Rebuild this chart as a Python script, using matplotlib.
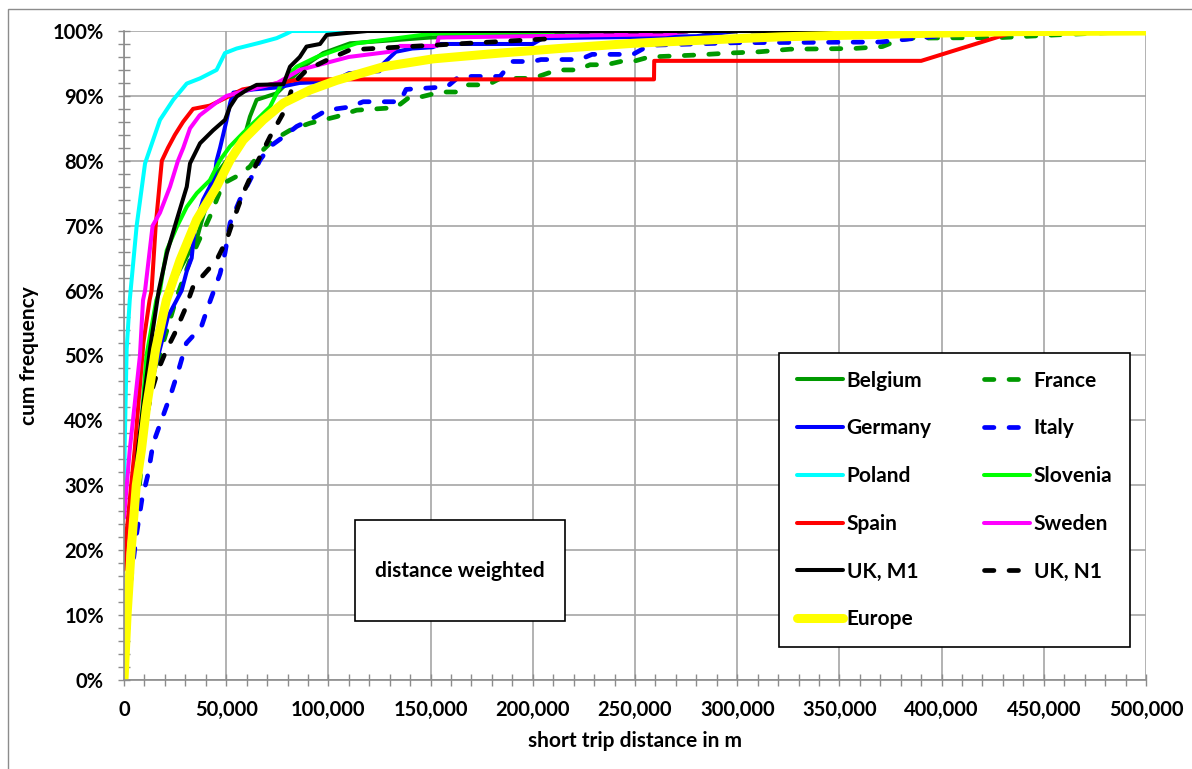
import matplotlib
matplotlib.use("Agg")
import matplotlib.pyplot as plt
import matplotlib.patches as patches
from matplotlib.ticker import FuncFormatter, MultipleLocator

plt.rcParams['font.family'] = ['Lato', 'DejaVu Sans']
plt.rcParams['font.weight'] = 'bold'

# cumulative share (%) over short trip distance (m), distance weighted
belgium_x = [0, 3500, 8500, 13000, 22000, 32000, 35500, 37200, 42000, 45300, 50200, 58300,
             61600, 64900, 74700, 81200, 87700, 97500, 110600, 150000, 200000, 250000, 500000]
belgium_y = [0, 20, 35.4, 50, 60, 66, 67.8, 69.8, 75, 78, 80, 83,
             86.8, 89.4, 90.4, 92.4, 94.5, 96.6, 98.1, 99, 99.5, 100, 100]

france_x = [0, 4000, 5400, 7800, 9400, 11100, 12700, 16600, 17600, 25800,
            32300, 42000, 48500, 55100, 61600, 66500, 73000, 81200, 91000, 104000,
            113800, 133000, 140000, 146000, 155000, 163000, 168000, 178000, 184000, 200000,
            212000, 222000, 228000, 236000, 243000, 249000, 257000, 280000, 296000, 311000,
            326000, 357000, 371000, 379000, 386000, 430000, 456000, 500000]
france_y = [0, 20, 23.6, 30.8, 37, 40.6, 45.7, 48.8, 50.3, 59,
            64.7, 71.4, 76.5, 77.6, 79.1, 81.2, 83.2, 84.7, 85.8, 86.8,
            87.8, 88.2, 89.9, 89.9, 90.6, 90.6, 91.7, 91.7, 92.7, 92.7,
            94, 94, 94.8, 94.8, 95.3, 95.3, 96, 96.3, 96.6, 96.8,
            97.2, 97.3, 97.6, 98.6, 98.9, 99, 99.4, 100]

germany_x = [0, 3500, 8500, 12000, 16600, 18300, 21500, 28200, 30700, 33100,
             34700, 38700, 42000, 44500, 45300, 47000, 48500, 50000, 52000, 53500,
             63300, 75000, 86000, 102000, 110000, 125000, 127000, 133000, 141000, 151000,
             155000, 200000, 205000, 280000, 300000, 500000]
germany_y = [0, 20, 35.4, 44, 49.8, 51.9, 56, 60, 63, 65,
             70, 74, 76, 78, 80, 82, 84, 86, 89, 90.5,
             91, 91.3, 92, 92.2, 93.5, 93.8, 95, 96.8, 97.3, 97.5,
             98, 98, 98.9, 99.2, 100, 100]

italy_x = [0, 1300, 2900, 4600, 6200, 8700, 11900, 14200, 18300, 23100,
           27200, 30500, 37800, 41100, 47000, 49400, 51900, 56700, 61600, 66500,
           71400, 78000, 84500, 91000, 99200, 110600, 117000, 135000, 138000, 158000,
           164000, 184000, 190000, 200000, 204000, 223000, 229000, 249000, 257000, 300000,
           370000, 400000, 440000, 500000]
italy_y = [0, 9.8, 14.4, 18.5, 22.6, 27.7, 31.9, 36.4, 40, 44.2,
           48.3, 51.9, 54.4, 57.5, 62.6, 65.8, 70.4, 74, 77, 80.1,
           82.2, 83.7, 85.3, 86.3, 87.8, 88.3, 89.1, 89.1, 91, 91.4,
           93, 93, 95.3, 95.3, 95.6, 95.6, 96.4, 96.4, 97.8, 98.2,
           98.3, 99.3, 100, 100]

poland_x = [0, 300, 1300, 2800, 6200, 10300, 17600, 24100, 30700, 37200,
            45300, 49400, 55100, 66500, 74700, 79600, 82000, 500000]
poland_y = [25, 35.5, 51, 58.5, 70, 79.6, 86.3, 89.4, 91.9, 92.7,
            94, 96.6, 97.3, 98.2, 98.9, 99.6, 100, 100]

slovenia_x = [0, 3500, 7500, 11000, 15800, 17600, 19100, 20900, 25800, 30700,
              35600, 42000, 47000, 51800, 58300, 64900, 71400, 76300, 81200, 84500,
              94300, 104100, 113800, 151000, 200000, 250000, 500000]
slovenia_y = [0, 20, 35.4, 50, 58.5, 60, 63, 66.2, 69.8, 72.9,
              75, 77, 80.1, 82.2, 84.3, 86.3, 88.3, 91.4, 93.5, 94.5,
              96, 97.1, 98.1, 99.6, 99.8, 100, 100]

spain_x = [0, 400, 5200, 9500, 12500, 13500, 15500, 17000, 18500, 21500,
           24900, 28900, 33800, 42000, 48500, 58000, 86000, 259300, 259400, 390000,
           437000, 500000]
spain_y = [17, 20, 35.4, 52, 58.5, 60, 70, 75, 80, 82,
           84, 86, 88, 88.5, 89.5, 91, 92.55, 92.55, 95.4, 95.4,
           100, 100]

sweden_x = [0, 2800, 7800, 9300, 10300, 14000, 17600, 22500, 26400, 29000,
            32300, 37000, 45300, 50200, 58000, 75000, 86000, 110000, 130000, 135000,
            153000, 154000, 200000, 265000, 277000, 500000]
sweden_y = [25, 35.4, 50, 58.5, 60, 70, 72, 76, 80, 82,
            85, 87, 89, 90, 90.7, 92, 94, 96, 96.8, 97.7,
            97.7, 99, 99.2, 99.5, 100, 100]

uk_m1_x = [0, 3000, 6800, 12700, 17000, 21000, 25800, 30700, 32300, 37200,
           43600, 49400, 51800, 55100, 60000, 64900, 78000, 81200, 86000, 89300,
           95900, 99200, 119000, 500000]
uk_m1_y = [10, 20, 35.4, 51, 60, 65.8, 70.9, 76, 79.6, 82.7,
           84.7, 86.3, 88.3, 89.9, 90.9, 91.7, 91.8, 94.5, 96, 97.6,
           98, 99.4, 100, 100]

uk_n1_x = [0, 3500, 8000, 10500, 14000, 16600, 20700, 24800, 29700, 33800,
           45300, 50200, 53500, 58300, 64900, 71400, 79600, 82800, 89400, 99200,
           110600, 208000, 210000, 500000]
uk_n1_y = [0, 20, 35.4, 40, 45, 47.7, 50.8, 53.4, 57, 60.6,
           64.7, 67.8, 70.9, 75, 79.6, 83.7, 88.3, 91.9, 94, 95.5,
           97.1, 98.8, 100, 100]

europe_x = [0, 1500, 3500, 6000, 8500, 11000, 15500, 20700, 27400, 35500,
            45300, 51900, 58300, 68100, 78000, 91000, 104100, 127000, 151000, 184000,
            217000, 249000, 291000, 321000, 386000, 435000, 500000]
europe_y = [0, 10, 20, 30, 35.4, 42, 51, 58.5, 64.7, 70.9,
            76, 80.1, 83.2, 86.3, 88.9, 90.9, 92.4, 94.5, 95.7, 96.6,
            97.4, 98.1, 98.7, 99.1, 99.6, 99.9, 100]

dark_green = "#009900"
series = [
    ("Belgium", belgium_x, belgium_y, dark_green, "-", 2.9),
    ("France", france_x, france_y, dark_green, "--", 3.4),
    ("Germany", germany_x, germany_y, "#0000ff", "-", 2.9),
    ("Italy", italy_x, italy_y, "#0000ff", "--", 3.4),
    ("Poland", poland_x, poland_y, "#00ffff", "-", 2.9),
    ("Slovenia", slovenia_x, slovenia_y, "#00ff00", "-", 2.9),
    ("Spain", spain_x, spain_y, "#ff0000", "-", 2.9),
    ("Sweden", sweden_x, sweden_y, "#ff00ff", "-", 2.9),
    ("UK, M1", uk_m1_x, uk_m1_y, "#000000", "-", 2.9),
    ("UK, N1", uk_n1_x, uk_n1_y, "#000000", "--", 3.4),
    ("Europe", europe_x, europe_y, "#ffff00", "-", 6.5),
]

fig = plt.figure(figsize=(11.92, 7.69), dpi=100)
ax = fig.add_axes([124 / 1192, 1 - 680 / 769, 1022 / 1192, 649 / 769])

handles = {}
for name, xs, ys, color, style, lw in series:
    line, = ax.plot(xs, [v / 100 for v in ys], color=color, lw=lw, label=name,
                    solid_capstyle="round", solid_joinstyle="round",
                    dash_capstyle="round", dash_joinstyle="round")
    if style == "--":
        line.set_dashes((2.0, 3.2))
    handles[name] = line

ax.set_xlim(0, 500000)
ax.set_ylim(0, 1.0)

grid_col = "#a6a6a6"
ax.xaxis.set_major_locator(MultipleLocator(50000))
ax.xaxis.set_minor_locator(MultipleLocator(10000))
ax.yaxis.set_major_locator(MultipleLocator(0.1))
ax.yaxis.set_minor_locator(MultipleLocator(0.02))
ax.xaxis.set_major_formatter(FuncFormatter(lambda v, p: f"{int(v):,}"))
ax.yaxis.set_major_formatter(FuncFormatter(lambda v, p: f"{v * 100:.0f}%"))
ax.grid(True, which="major", color=grid_col, lw=1.2)
ax.set_axisbelow(True)

for side in ["top", "right"]:
    ax.spines[side].set_visible(False)
for side in ["left", "bottom"]:
    ax.spines[side].set_color("#8c8c8c")
    ax.spines[side].set_linewidth(1.2)

ax.tick_params(which="both", direction="inout", color="#8c8c8c", width=1.0)
ax.tick_params(which="major", length=9, labelsize=14.5)
ax.tick_params(which="minor", length=8)
ax.tick_params(axis="y", which="major", pad=10)
ax.tick_params(axis="x", which="major", pad=10)

ax.set_xlabel("short trip distance in m", fontsize=15, fontweight="bold", labelpad=8)
ax.set_ylabel("cum frequency", fontsize=15, fontweight="bold", labelpad=10)

order = ["Belgium", "Germany", "Poland", "Spain", "UK, M1", "Europe",
         "France", "Italy", "Slovenia", "Sweden", "UK, N1"]
leg = ax.legend([handles[n] for n in order], order, ncol=2,
                loc="upper left", bbox_to_anchor=(779 / 1192, 1 - 353 / 769),
                bbox_transform=fig.transFigure, borderaxespad=0,
                fontsize=15, handlelength=2.2, handletextpad=0.2,
                columnspacing=2.5, labelspacing=1.33, borderpad=0.85,
                fancybox=False, framealpha=1, edgecolor="black")
leg.get_frame().set_linewidth(1.2)

# text box inside the plot area
fig.patches.append(patches.Rectangle((355 / 1192, 1 - 621 / 769), 210 / 1192, 101 / 769,
                                     transform=fig.transFigure, facecolor="white",
                                     edgecolor="black", lw=1.2, zorder=5))
fig.text(460 / 1192, 1 - 571 / 769, "distance weighted", ha="center", va="center",
         fontsize=15, fontweight="bold", zorder=6)

# chart area border
fig.patches.append(patches.Rectangle((8 / 1192, -0.1), 1.2, 1.1 - 9 / 769,
                                     transform=fig.transFigure, fill=False,
                                     edgecolor="#8c8c8c", lw=1.0))

fig.savefig("out.png", dpi=100)
